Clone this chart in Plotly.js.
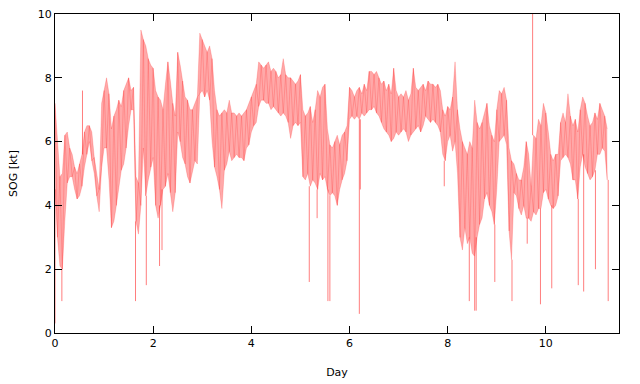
<!DOCTYPE html>
<html><head><meta charset="utf-8">
<script src="https://cdn.plot.ly/plotly-3.0.1.min.js"></script>
<style>html,body{margin:0;padding:0;background:#fff}#c{width:640px;height:384px}</style>
</head><body><div id="c"></div>
<script>
// Sampled every 0.05 day from day 0.00 to 11.25
var day0 = 0, dayStep = 0.05;
var sogHigh = [7.2,6.0,4.9,5.0,6.2,6.3,5.8,5.6,5.2,5.0,5.3,5.6,6.3,6.5,6.5,6.3,5.5,5.0,4.5,7.2,
7.6,8.0,7.5,6.4,6.8,7.0,7.3,7.1,7.6,7.8,8.0,7.6,7.7,4.9,4.7,9.5,9.2,9.0,8.6,8.4,
8.3,7.6,7.4,7.3,7.0,7.8,8.5,7.9,7.2,6.8,8.8,8.4,7.9,7.4,7.3,7.0,7.0,7.2,7.4,9.4,
9.2,9.0,8.8,9.0,8.6,7.6,7.0,6.8,6.9,7.0,6.9,7.3,6.9,6.9,6.8,6.9,6.8,6.9,7.0,7.2,
7.4,7.6,7.8,8.5,8.4,8.3,8.4,8.5,8.2,8.3,8.2,8.0,8.1,8.6,8.1,8.0,8.0,7.9,7.8,7.9,
8.1,7.0,6.8,6.9,7.1,6.6,7.0,7.6,7.4,7.7,7.8,6.4,5.9,5.8,6.0,6.2,5.9,6.2,6.3,6.5,
7.7,7.6,7.4,7.6,7.7,7.5,7.8,7.6,8.2,8.2,8.1,8.2,8.0,7.8,7.9,7.6,7.8,7.5,8.3,7.6,
7.4,7.5,7.4,7.6,7.3,7.5,8.3,7.7,7.6,7.7,7.8,7.6,7.9,7.8,7.8,7.7,7.8,7.6,7.0,6.8,
7.1,7.0,7.4,8.5,7.0,6.4,6.0,5.8,5.6,6.0,5.8,7.3,6.6,6.4,6.6,6.9,7.2,6.5,6.2,6.0,
7.0,7.6,7.5,7.7,7.3,5.8,5.4,5.3,5.0,4.8,4.8,5.2,6.0,5.6,4.6,6.2,6.1,6.7,6.5,7.2,
6.9,6.3,5.6,5.4,5.6,5.6,6.6,6.9,6.6,7.5,6.8,6.5,6.7,6.3,7.0,7.4,7.2,6.8,6.5,6.6,
6.9,6.7,7.2,7.0,6.8,6.4];
var sogLow = [4.5,3.0,2.1,2.0,3.5,4.7,4.9,4.9,4.5,4.2,4.3,4.6,5.2,5.6,6.0,5.4,5.0,4.3,3.8,5.2,
5.8,5.8,4.8,3.3,3.5,4.0,4.6,5.1,5.3,5.8,6.5,7.0,7.0,3.5,3.1,4.0,5.8,4.3,4.8,5.2,
5.5,4.0,3.6,4.0,4.5,4.6,5.0,4.4,3.8,4.4,6.3,6.0,5.5,5.3,4.9,4.7,5.1,5.4,5.3,7.5,
7.6,7.4,7.6,7.3,6.0,5.2,4.9,4.5,3.9,5.1,5.3,5.7,5.4,5.5,5.6,5.5,5.5,5.4,5.8,5.9,
6.3,6.5,6.6,7.1,7.3,7.3,7.2,7.2,7.0,7.1,7.0,6.9,6.8,6.9,6.8,6.6,6.1,6.5,6.6,6.5,
6.6,4.9,4.8,5.0,4.6,4.8,4.7,4.5,5.0,4.8,4.9,4.5,4.3,4.4,4.3,4.0,4.5,4.8,5.0,5.4,
6.7,6.8,6.7,6.8,6.7,6.9,6.8,6.9,7.0,7.0,7.1,6.9,6.8,6.6,6.4,6.3,6.2,6.0,6.1,6.3,
6.2,6.3,6.4,6.3,6.0,6.2,6.3,6.4,6.5,6.3,6.5,6.8,6.7,6.6,6.7,6.6,6.5,6.3,5.6,5.4,
6.0,6.2,5.7,6.0,5.0,3.0,2.6,3.3,2.8,3.0,2.5,2.4,3.0,3.4,3.6,4.2,4.4,4.0,3.8,3.4,
4.5,6.0,6.1,6.2,5.9,3.2,2.3,4.4,4.3,3.9,3.7,4.0,3.6,3.6,3.5,3.8,3.7,3.9,3.9,4.4,
4.5,4.2,4.0,3.9,4.0,4.3,5.4,5.5,5.6,5.5,5.3,4.8,4.8,4.2,5.2,5.6,5.2,5.0,4.8,4.9,
5.1,5.6,5.6,5.8,5.7,4.8];
// Isolated spikes: day, extreme value reached
var spikeDay = [0.00,0.14,0.56,1.64,1.86,2.13,2.18,5.18,5.34,5.56,5.60,6.20,6.22,7.93,8.44,8.55,8.58,8.96,9.31,9.62,9.73,9.89,10.12,10.66,10.77,11.01,11.27];
var spikeVal = [0.3,1.0,7.6,1.0,1.5,2.1,2.6,1.6,3.6,1.0,1.0,0.6,4.5,4.6,1.0,0.7,0.7,1.6,1.0,2.8,10.2,0.9,1.4,1.5,1.3,2.0,1.0];

var days = sogHigh.map(function(_, i){ return +(day0 + i*dayStep).toFixed(2); });
// saw-tooth through the envelope samples, alternating high and low readings
var zy = days.map(function(_, i){ return i % 2 ? sogLow[i] : sogHigh[i]; });
var sx = [], sy = [];
spikeDay.forEach(function(d, k){
  var i = Math.min(sogLow.length-1, Math.max(0, Math.round((d-day0)/dayStep)));
  var base = spikeVal[k] > sogHigh[i] ? sogHigh[i] : sogLow[i];
  sx.push(d, d, null); sy.push(base, spikeVal[k], null);
});

var traces = [
  {x: days, y: sogLow, type:'scatter', mode:'lines', line:{color:'rgba(255,0,0,0.3)', width:0.6}, hoverinfo:'skip'},
  {x: days, y: sogHigh, type:'scatter', mode:'lines', fill:'tonexty', fillcolor:'rgba(255,140,140,0.75)', line:{color:'rgba(255,0,0,0.3)', width:0.6}},
  {x: days, y: zy, type:'scatter', mode:'lines', line:{color:'rgba(255,0,0,0.3)', width:0.6}, hoverinfo:'skip'},
  {x: sx, y: sy, type:'scatter', mode:'lines', line:{color:'rgba(255,40,40,0.6)', width:1}, connectgaps:false, hoverinfo:'skip'}
];
var font = {family:'DejaVu Sans, Verdana, sans-serif', size:11, color:'#000'};
var layout = {
  width:640, height:384,
  margin:{l:55, r:21, t:14, b:51},
  paper_bgcolor:'#fff', plot_bgcolor:'#fff',
  font: font,
  showlegend:false,
  xaxis:{range:[0,11.49], tickvals:[0,2,4,6,8,10], ticks:'inside', ticklen:7, tickcolor:'#000',
    showline:true, linecolor:'#000', linewidth:1, mirror:'ticks', showgrid:false, zeroline:false,
    title:{text:'Day', font:font, standoff:19}},
  yaxis:{range:[0,10], tickvals:[0,2,4,6,8,10], ticks:'inside', ticklen:7, tickcolor:'#000',
    showline:true, linecolor:'#000', linewidth:1, mirror:'ticks', showgrid:false, zeroline:false,
    title:{text:'SOG [kt]', font:font, standoff:17}}
};
Plotly.newPlot('c', traces, layout, {displayModeBar:false, staticPlot:true});
</script></body></html>
